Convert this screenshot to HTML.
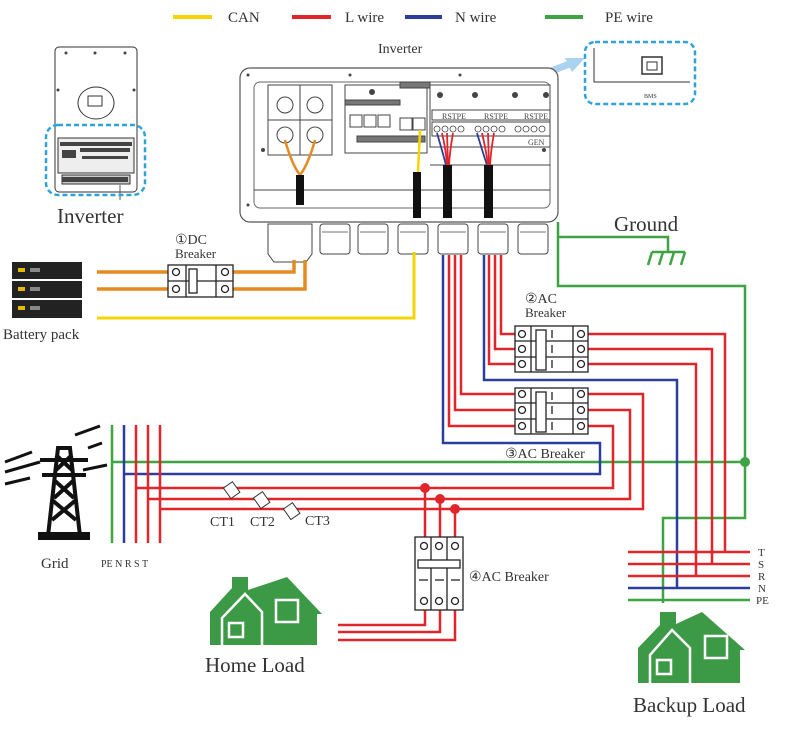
<!DOCTYPE html>
<html><head><meta charset="utf-8"><style>
html,body{margin:0;padding:0;background:#fff;}
svg{display:block;font-family:"Liberation Serif",serif;}
</style></head><body>
<svg width="800" height="731" viewBox="0 0 800 731" xmlns="http://www.w3.org/2000/svg">
<!-- Legend -->
<g stroke-width="4">
<line x1="173" y1="17" x2="212" y2="17" stroke="#f4d500"/>
<line x1="292" y1="17" x2="331" y2="17" stroke="#e0252b"/>
<line x1="405" y1="17" x2="442" y2="17" stroke="#2b3f9a"/>
<line x1="545" y1="17" x2="583" y2="17" stroke="#3ea343"/>
</g>
<g font-size="15" fill="#333">
<text x="228" y="22">CAN</text><text x="345" y="22">L wire</text>
<text x="455" y="22">N wire</text><text x="605" y="22">PE wire</text>
<text x="378" y="53" font-size="14">Inverter</text>
</g>

<!-- small inverter -->
<g stroke="#333" fill="#fff" stroke-width="1">
<rect x="55" y="47" width="82" height="145" rx="4"/>
<ellipse cx="96" cy="103" rx="18" ry="16"/>
<rect x="88" y="96" width="14" height="10" fill="#fff"/>
<rect x="58" y="138" width="76" height="35" fill="#eee"/>
<rect x="62" y="175" width="68" height="9" fill="#ccc"/>
</g>
<g fill="#444"><rect x="60" y="142" width="72" height="4"/><rect x="62" y="150" width="14" height="8"/><rect x="80" y="148" width="50" height="4"/><rect x="82" y="156" width="46" height="3"/><rect x="62" y="177" width="66" height="5"/>
<circle cx="66" cy="53" r="1.5"/><circle cx="95" cy="53" r="1.5"/><circle cx="125" cy="53" r="1.5"/><circle cx="58" cy="90" r="1.5"/><circle cx="134" cy="90" r="1.5"/></g>
<line x1="120" y1="185" x2="120" y2="200" stroke="#555"/>
<rect x="46" y="125" width="99" height="70" rx="12" fill="none" stroke="#2fa3d6" stroke-width="2.5" stroke-dasharray="5,3"/>
<text x="57" y="223" font-size="21" fill="#333">Inverter</text>

<!-- BMS -->
<line x1="462" y1="106" x2="572" y2="63" stroke="#a9d3ee" stroke-width="7"/>
<polygon points="585,58 565,58 572,72" fill="#a9d3ee"/>
<rect x="585" y="42" width="110" height="62" rx="10" fill="none" stroke="#2fa3d6" stroke-width="2.5" stroke-dasharray="5,3"/>
<polyline points="594,48 594,82 690,82" fill="none" stroke="#333"/>
<rect x="642" y="57" width="20" height="17" fill="#fff" stroke="#333" stroke-width="1.5"/>
<rect x="647" y="62" width="10" height="8" fill="none" stroke="#333"/>
<text x="644" y="98" font-size="6" fill="#333">BMS</text>

<!-- Big inverter -->
<rect x="240" y="68" width="318" height="154" rx="10" fill="#fff" stroke="#555" stroke-width="1.2"/>
<rect x="254" y="82" width="296" height="126" rx="6" fill="#fff" stroke="#666"/>
<g fill="#fff" stroke="#444" stroke-width="1">
<rect x="268" y="85" width="64" height="70"/>
<line x1="300" y1="85" x2="300" y2="155"/><line x1="268" y1="120" x2="332" y2="120"/>
<circle cx="285" cy="105" r="8"/><circle cx="315" cy="105" r="8"/>
<circle cx="285" cy="135" r="8"/><circle cx="315" cy="135" r="8"/>
<rect x="345" y="85" width="82" height="68"/>
<rect x="430" y="85" width="120" height="62"/>
<rect x="345" y="100" width="55" height="5" fill="#777"/>
<rect x="350" y="115" width="12" height="12"/><rect x="364" y="115" width="12" height="12"/><rect x="378" y="115" width="12" height="12"/>
<rect x="400" y="118" width="12" height="12"/><rect x="413" y="118" width="12" height="12"/>
<rect x="357" y="136" width="68" height="6" fill="#777"/>
<rect x="432" y="110" width="118" height="10"/>
<rect x="432" y="122" width="118" height="14"/>
<rect x="400" y="82" width="30" height="6" fill="#777"/>
<line x1="254" y1="190" x2="550" y2="190"/>
<line x1="430" y1="165" x2="550" y2="165"/>
<rect x="320" y="224" width="30" height="30" rx="3"/>
<rect x="358" y="224" width="30" height="30" rx="3"/>
<rect x="398" y="224" width="30" height="30" rx="3"/>
<rect x="438" y="224" width="30" height="30" rx="3"/>
<rect x="478" y="224" width="30" height="30" rx="3"/>
<rect x="518" y="224" width="30" height="30" rx="3"/>
<path d="M268 224 h44 v30 l-6 8 h-32 l-6 -8 z"/>
</g>
<g fill="none" stroke="#444" stroke-width="0.8">
<line x1="322" y1="232" x2="348" y2="232"/><line x1="360" y1="232" x2="386" y2="232"/><line x1="400" y1="232" x2="426" y2="232"/><line x1="440" y1="232" x2="466" y2="232"/><line x1="480" y1="232" x2="506" y2="232"/><line x1="520" y1="232" x2="546" y2="232"/>
<circle cx="437" cy="129" r="3"/><circle cx="445" cy="129" r="3"/><circle cx="453" cy="129" r="3"/><circle cx="461" cy="129" r="3"/>
<circle cx="478" cy="129" r="3"/><circle cx="486" cy="129" r="3"/><circle cx="494" cy="129" r="3"/><circle cx="502" cy="129" r="3"/>
<circle cx="518" cy="129" r="3"/><circle cx="526" cy="129" r="3"/><circle cx="534" cy="129" r="3"/><circle cx="542" cy="129" r="3"/>
</g>
<g font-size="8" fill="#444"><text x="442" y="119">RSTPE</text><text x="484" y="119">RSTPE</text><text x="524" y="119">RSTPE</text><text x="528" y="145">GEN</text></g>
<g fill="#444"><circle cx="372" cy="92" r="3"/><circle cx="440" cy="95" r="3"/><circle cx="475" cy="95" r="3"/><circle cx="515" cy="95" r="3"/><circle cx="546" cy="95" r="3"/><circle cx="263" cy="150" r="2"/><circle cx="544" cy="150" r="2"/><circle cx="248" cy="75" r="1.5"/><circle cx="350" cy="75" r="1.5"/><circle cx="460" cy="75" r="1.5"/><circle cx="248" cy="205" r="1.5"/></g>
<!-- internal cables -->
<path d="M285 140 Q292 165 300 175 Q308 165 315 140" fill="none" stroke="#e68a22" stroke-width="2.5"/>
<rect x="296" y="175" width="8" height="30" fill="#111"/>
<line x1="420" y1="130" x2="418" y2="172" stroke="#f4d500" stroke-width="2.5"/>
<rect x="413" y="172" width="8" height="46" fill="#111"/>
<g fill="none" stroke-width="1.8">
<path d="M437 133 Q442 150 446 165" stroke="#2b3f9a"/><path d="M442 133 Q446 150 447 165" stroke="#e0252b"/><path d="M447 133 L448 165" stroke="#e0252b"/><path d="M453 133 Q450 150 449 165" stroke="#e0252b"/>
<path d="M477 133 Q482 150 487 165" stroke="#2b3f9a"/><path d="M482 133 Q486 150 488 165" stroke="#e0252b"/><path d="M488 133 L489 165" stroke="#e0252b"/><path d="M494 133 Q491 150 490 165" stroke="#e0252b"/>
</g>
<rect x="443" y="165" width="9" height="53" fill="#111"/>
<rect x="484" y="165" width="9" height="53" fill="#111"/>

<!-- Battery -->
<g fill="#222"><rect x="12" y="262" width="70" height="17"/><rect x="12" y="281" width="70" height="17"/><rect x="12" y="300" width="70" height="18"/></g>
<g fill="#e6b800"><rect x="18" y="268" width="7" height="4"/><rect x="18" y="287" width="7" height="4"/><rect x="18" y="306" width="7" height="4"/></g>
<g fill="#888"><rect x="30" y="268" width="10" height="4"/><rect x="30" y="287" width="10" height="4"/><rect x="30" y="306" width="10" height="4"/></g>
<text x="3" y="339" font-size="15" fill="#333">Battery pack</text>

<!-- DC breaker -->
<g stroke="#e68a22" stroke-width="3.5" fill="none">
<polyline points="97,272 170,272"/><polyline points="232,272 294,272 294,260"/>
<polyline points="97,289 170,289"/><polyline points="232,289 305,289 305,260"/>
</g>
<polyline points="97,318 414,318 414,252" fill="none" stroke="#f4d500" stroke-width="3"/>
<g stroke="#222" fill="#fff" stroke-width="1.3">
<rect x="168" y="265" width="65" height="32"/><line x1="168" y1="281" x2="233" y2="281"/>
<line x1="186" y1="265" x2="186" y2="297"/><line x1="216" y1="265" x2="216" y2="297"/>
<circle cx="176" cy="272" r="3.5"/><circle cx="176" cy="289" r="3.5"/><circle cx="225" cy="272" r="3.5"/><circle cx="225" cy="289" r="3.5"/>
<rect x="189" y="269" width="8" height="24"/>
</g>
<text x="175" y="244" font-size="14" fill="#333">①DC</text><text x="175" y="258" font-size="13" fill="#333">Breaker</text>

<!-- Ground -->
<g stroke="#3ea343" stroke-width="2.5" fill="none">
<polyline points="558,222 558,286 745,286 745,518 663,518 663,603"/>
<polyline points="558,237 668,237 668,252"/>
<line x1="652" y1="252" x2="685" y2="252"/><line x1="652" y1="252" x2="648" y2="265"/><line x1="663" y1="252" x2="659" y2="265"/><line x1="674" y1="252" x2="670" y2="265"/><line x1="685" y1="252" x2="681" y2="265"/>
<line x1="112" y1="462" x2="745" y2="462"/>
<line x1="112" y1="425" x2="112" y2="543"/>
<line x1="628" y1="600" x2="750" y2="600"/>
</g>
<circle cx="745" cy="462" r="5" fill="#3ea343"/>
<text x="614" y="231" font-size="21" fill="#333">Ground</text>

<!-- N wires -->
<g stroke="#2b3f9a" stroke-width="2.5" fill="none">
<polyline points="443,255 443,443 600,443 600,474 125,474"/>
<polyline points="484,255 484,380 677,380 677,588"/>
<line x1="124" y1="425" x2="124" y2="543"/>
<line x1="628" y1="588" x2="750" y2="588"/>
</g>
<!-- L wires -->
<g stroke="#e0252b" stroke-width="2.5" fill="none">
<polyline points="501,255 501,334 515,334"/><polyline points="588,334 725,334 725,552"/>
<polyline points="495,255 495,349 515,349"/><polyline points="588,349 712,349 712,564"/>
<polyline points="489,255 489,364 515,364"/><polyline points="588,364 696,364 696,576"/>
<polyline points="461,255 461,394 515,394"/><polyline points="588,394 643,394 643,509 160,509"/>
<polyline points="455,255 455,410 515,410"/><polyline points="588,410 630,410 630,499 148,499"/>
<polyline points="449,255 449,426 515,426"/><polyline points="588,426 613,426 613,488 136,488"/>
<line x1="136" y1="425" x2="136" y2="543"/><line x1="148" y1="425" x2="148" y2="543"/><line x1="160" y1="425" x2="160" y2="543"/>
<line x1="628" y1="552" x2="750" y2="552"/><line x1="628" y1="564" x2="750" y2="564"/><line x1="628" y1="576" x2="750" y2="576"/>
<line x1="425" y1="488" x2="425" y2="540"/><line x1="440" y1="499" x2="440" y2="540"/><line x1="455" y1="509" x2="455" y2="540"/>
<polyline points="425,607 425,625 338,625"/><polyline points="440,607 440,632 338,632"/><polyline points="455,607 455,640 338,640"/>
</g>
<g fill="#e0252b"><circle cx="425" cy="488" r="5"/><circle cx="440" cy="499" r="5"/><circle cx="455" cy="509" r="5"/><circle cx="696" cy="552" r="2"/><circle cx="712" cy="552" r="2"/></g>

<!-- AC breakers 2 & 3 -->
<g stroke="#222" fill="#fff" stroke-width="1.3">
<rect x="515" y="326" width="73" height="46"/><line x1="515" y1="341" x2="588" y2="341"/><line x1="515" y1="357" x2="588" y2="357"/>
<line x1="531" y1="326" x2="531" y2="372"/><line x1="573" y1="326" x2="573" y2="372"/><rect x="536" y="330" width="10" height="40"/>
<circle cx="522" cy="334" r="3.5"/><circle cx="522" cy="349" r="3.5"/><circle cx="522" cy="364" r="3.5"/>
<circle cx="581" cy="334" r="3.5"/><circle cx="581" cy="349" r="3.5"/><circle cx="581" cy="364" r="3.5"/>
<rect x="515" y="388" width="73" height="46"/><line x1="515" y1="403" x2="588" y2="403"/><line x1="515" y1="419" x2="588" y2="419"/>
<line x1="531" y1="388" x2="531" y2="434"/><line x1="573" y1="388" x2="573" y2="434"/><rect x="536" y="392" width="10" height="40"/>
<circle cx="522" cy="394" r="3.5"/><circle cx="522" cy="410" r="3.5"/><circle cx="522" cy="426" r="3.5"/>
<circle cx="581" cy="394" r="3.5"/><circle cx="581" cy="410" r="3.5"/><circle cx="581" cy="426" r="3.5"/>
<!-- breaker 4 -->
<rect x="415" y="537" width="48" height="73"/><line x1="431" y1="537" x2="431" y2="610"/><line x1="447" y1="537" x2="447" y2="610"/>
<rect x="418" y="560" width="42" height="8"/>
<circle cx="424" cy="546" r="3.5"/><circle cx="439" cy="546" r="3.5"/><circle cx="455" cy="546" r="3.5"/>
<circle cx="424" cy="601" r="3.5"/><circle cx="439" cy="601" r="3.5"/><circle cx="455" cy="601" r="3.5"/>
</g>
<g stroke="#222" stroke-width="1.3"><line x1="552" y1="330" x2="552" y2="338"/><line x1="552" y1="345" x2="552" y2="353"/><line x1="552" y1="360" x2="552" y2="368"/><line x1="552" y1="392" x2="552" y2="400"/><line x1="552" y1="406" x2="552" y2="414"/><line x1="552" y1="422" x2="552" y2="430"/>
<line x1="419" y1="580" x2="428" y2="580"/><line x1="435" y1="580" x2="444" y2="580"/><line x1="451" y1="580" x2="460" y2="580"/></g>
<g font-size="14" fill="#333">
<text x="525" y="303">②AC</text><text x="525" y="317" font-size="13">Breaker</text>
<text x="505" y="458">③AC Breaker</text>
<text x="469" y="581">④AC Breaker</text>
<text x="758" y="556" font-size="11">T</text><text x="758" y="568" font-size="11">S</text><text x="758" y="580" font-size="11">R</text><text x="758" y="592" font-size="11">N</text><text x="756" y="604" font-size="11">PE</text>
<text x="41" y="568" font-size="15">Grid</text>
<text x="101" y="567" font-size="10">PE N R S T</text>
<text x="210" y="526">CT1</text><text x="250" y="526">CT2</text><text x="305" y="525">CT3</text>
</g>
<!-- CTs -->
<g fill="#fff" stroke="#333" stroke-width="1">
<rect x="226" y="484" width="11" height="13" transform="rotate(-35 231 490)"/>
<rect x="256" y="494" width="11" height="13" transform="rotate(-35 261 500)"/>
<rect x="286" y="505" width="11" height="13" transform="rotate(-35 291 511)"/>
</g>

<!-- Tower -->
<g stroke="#111" fill="none" stroke-width="4">
<path d="M48 536 L58 448 L70 448 L80 536"/>
<path d="M40 460 H88 M42 475 H86 M52 500 L76 520 M76 500 L52 520 M54 480 L74 498 M74 480 L54 498 M56 455 L72 470 M72 455 L56 470"/>
</g>
<rect x="38" y="532" width="52" height="8" fill="#111"/>
<g stroke="#111" stroke-width="3">
<line x1="5" y1="462" x2="32" y2="452"/><line x1="5" y1="472" x2="40" y2="462"/><line x1="5" y1="484" x2="30" y2="478"/>
<line x1="75" y1="435" x2="100" y2="426"/><line x1="88" y1="448" x2="102" y2="443"/><line x1="83" y1="470" x2="107" y2="465"/>
</g>

<!-- Houses -->
<g fill="#3c9a47">
<path d="M210 645 V612 L232 588 V577 H248 V590 L287 577 L322 614 H317 V645 Z"/>
<path d="M638 683 V648 L660 625 V612 H676 V624 L702 612 L745 650 H740 V683 Z"/>
</g>
<g fill="none" stroke="#fff" stroke-width="2.5">
<path d="M222 645 V618 L245 594 L262 612 V645"/><rect x="229" y="623" width="14" height="14"/><rect x="276" y="600" width="22" height="22"/>
<path d="M650 683 V655 L672 630 L690 648 V683"/><rect x="657" y="660" width="14" height="14"/><rect x="705" y="636" width="22" height="22"/>
</g>
<text x="205" y="672" font-size="21" fill="#333">Home Load</text>
<text x="633" y="712" font-size="21" fill="#333">Backup Load</text>
</svg>
</body></html>
